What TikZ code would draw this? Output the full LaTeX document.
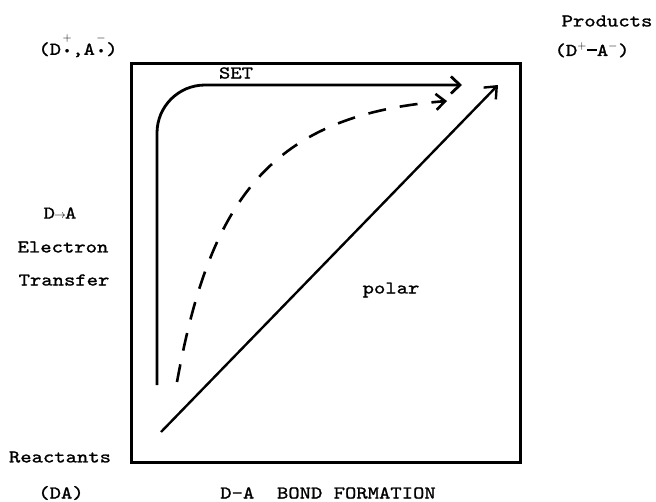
\documentclass[tikz,border=0pt]{standalone}
\usepackage{amsmath}
\usepackage{fontspec}
\setmonofont[FakeStretch=1.2,FakeBold=1.2]{lmmono10-regular.otf}
\usetikzlibrary{arrows.meta}
\tikzset{
  frame/.style={draw=black, line width=3pt, line join=miter},
  label/.style={font=\fontsize{18}{20}\selectfont\ttfamily, inner sep=0pt},
  setflow/.style={-{Straight Barb[length=9pt,width=17pt]}, line width=2.8pt, rounded corners=48pt},
  dashflow/.style={-{Straight Barb[length=9pt,width=16pt]}, line width=2.6pt, dash pattern=on 18pt off 14pt},
  polarflow/.style={-{Straight Barb[length=10pt,width=17pt]}, line width=2.4pt}
}
\newcommand\radchg[1]{\kern1.5pt\raisebox{1pt}{\shortstack{$\scriptstyle#1$\\[4pt]$\scriptscriptstyle\bullet$}}\kern0.5pt}
\begin{document}
\begin{tikzpicture}[x=1pt,y=-1pt]
  \useasboundingbox (0,0) rectangle (656,501);
  % axes box
  \draw[frame] (131,63) rectangle (520,462);
  % labels
  \node[label] (rad) at (78,46) {(D\radchg{+},A\radchg{-})};
  \node[label] (prod) at (607,21) {Products};
  \node[label] (ion) at (592,50) {(D$^{+}$\rule[5pt]{10pt}{1.6pt}A$^{-}$)};
  \node[label] (set) at (236,73) {SET};
  \node[label] (da) at (60,213) {D\kern-1pt$\scriptstyle\rightarrow$\kern-1pt A};
  \node[label] (elec) at (63,247) {Electron};
  \node[label] (trans) at (64,280) {Transfer};
  \node[label] (react) at (60,457) {Reactants};
  \node[label] (dapair) at (61,493) {(DA)};
  \node[label] (bond) at (328,493) {D-A\ \ BOND FORMATION};
  \node[label] (polar) at (391,290) {polar};
  % reaction paths
  \coordinate (setstart) at (157,385);
  \coordinate (setend) at (462,85);
  \coordinate (dstart) at (177,382);
  \coordinate (dend) at (447,101);
  \coordinate (pstart) at (161,432);
  \coordinate (pend) at (498,85);
  \draw[setflow] (setstart) |- (setend);
  \draw[dashflow] (dstart) .. controls (210,200) and (270,115) .. (dend);
  \draw[polarflow] (pstart) -- (pend);
\end{tikzpicture}
\end{document}
